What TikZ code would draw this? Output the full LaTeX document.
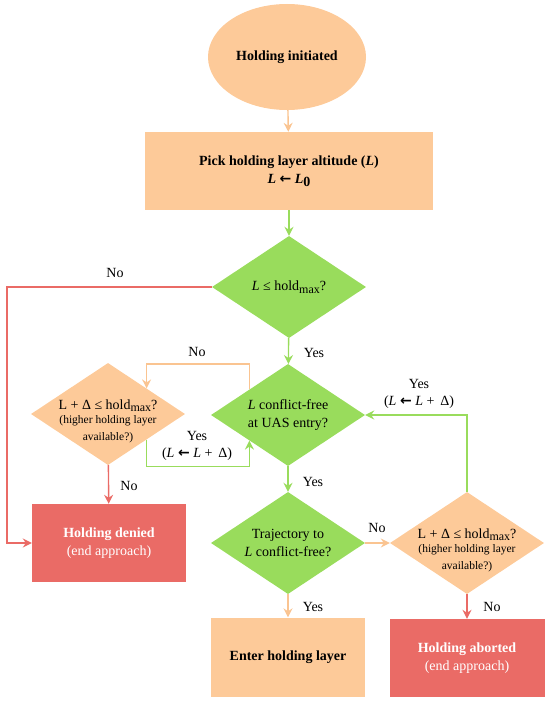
\documentclass[tikz,border=0pt]{standalone}
\usepackage{fontspec}
\setmainfont{Liberation Serif}
\newfontfamily\arrfont{DejaVu Sans}
\usetikzlibrary{shapes.geometric,arrows.meta,calc}
\definecolor{peach}{RGB}{253,202,153}
\definecolor{peachline}{RGB}{250,196,145}
\definecolor{lgreen}{RGB}{153,220,92}
\definecolor{lred}{RGB}{234,107,102}
\newcommand{\mysub}[1]{\raisebox{-0.4ex}{\fontsize{12}{12}\selectfont #1}}
\newcommand{\larr}{{\arrfont\bfseries ←}}
\begin{document}
\begin{tikzpicture}[x=1pt,y=-1pt,
  txt/.style={font=\fontsize{14}{18}\selectfont, align=center, inner sep=0},
  small/.style={font=\fontsize{11.5}{17}\selectfont, align=center, inner sep=0},
  dia/.style={diamond, draw=none, minimum width=154, minimum height=102, inner sep=0},
  box/.style={rectangle, draw=none, inner sep=0},
  conn/.style={line width=1.4pt, -{Stealth[length=9pt,width=9pt,inset=3pt]}},
  lab/.style={font=\fontsize{14}{17}\selectfont, align=center, inner sep=0}
]
\useasboundingbox (0,0) rectangle (550,703);

% nodes
\node[ellipse, fill=peach, minimum width=158, minimum height=106, inner sep=0] (start) at (287,57) {};
\node[txt, font=\fontsize{14}{18}\selectfont\bfseries] at (start) {Holding initiated};

\node[box, fill=peach, minimum width=288, minimum height=78] (pick) at (289,171) {};
\node[txt, font=\fontsize{14}{18}\selectfont\bfseries] at (pick) {Pick holding layer altitude (\textit{L})\\ \textit{L} \larr{} \textit{L}\raisebox{-0.4ex}{0}};

\node[dia, fill=lgreen] (d1) at (289,287) {};
\node[txt] at (d1) {\textit{L} ≤ hold\mysub{max}?};

\node[dia, fill=lgreen] (d2) at (288,415) {};
\node[txt] at (d2) {\textit{L} conflict-free\\at UAS entry?};

\node[dia, fill=lgreen] (d3) at (288,543) {};
\node[txt] at (d3) {Trajectory to\\\textit{L} conflict-free?};

\node[dia, fill=peach] (d4) at (108,414) {};
\node[txt, anchor=south] (d4t) at (108,412) {L + Δ ≤ hold\mysub{max}?};
\node[small, anchor=north] at (108,415) {(higher holding layer\\available?)};

\node[dia, fill=peach] (d5) at (467,543) {};
\node[txt, anchor=south] at (467,541) {L + Δ ≤ hold\mysub{max}?};
\node[small, anchor=north] at (467,544) {(higher holding layer\\available?)};

\node[box, fill=lred, minimum width=154, minimum height=78] (den) at (109,543) {};
\node[txt, text=white] at (den) {\textbf{Holding denied}\\(end approach)};

\node[box, fill=peach, minimum width=154, minimum height=79] (enter) at (288,657) {};
\node[txt, font=\fontsize{14}{18}\selectfont\bfseries] at (enter) {Enter holding layer};

\node[box, fill=lred, minimum width=155, minimum height=78] (abort) at (467,658) {};
\node[txt, text=white] at (abort) {\textbf{Holding aborted}\\(end approach)};

% helper coordinates
\coordinate (leftx) at (7,0);
\coordinate (p1) at ($(d2.west)!0.5!(d2.north)$);
\coordinate (p2) at ($(d4.north)!0.5!(d4.east)$);
\coordinate (q1) at ($(d4.east)!0.5!(d4.south)$);
\coordinate (q2) at ($(d2.west)!0.5!(d2.south)$);

% connectors
\draw[conn, peachline] (start) -- (pick);
\draw[conn, lgreen] (pick) -- (d1);
\draw[conn, lgreen] (d1) -- (d2);
\draw[conn, lgreen] (d2) -- (d3);
\draw[conn, peachline] (d3) -- (enter);
\draw[conn, peachline] (d3) -- (d5);
\draw[conn, lred] (d5) -- (abort);
\draw[conn, lred] (d4) -- (den);
\draw[conn, lred] (d1.west) -- (d1.west -| leftx) |- (den.west);
\draw[conn, lgreen] (d5.north) |- (d2.east);
\draw[conn, peachline] (p1) -- (p1 |- d2.north) -| (p2);
\draw[conn, lgreen] (q1) -- (q1 |- d2.south) -| (q2);

% labels
\node[lab] at (115,273) {No};
\node[lab] at (314,353) {Yes};
\node[lab] at (197,352) {No};
\node[lab] at (197,446) {Yes\\(\textit{L} \larr{} \textit{L} +\, Δ)};
\node[lab] at (313,482) {Yes};
\node[lab] at (129,486) {No};
\node[lab] at (377,528) {No};
\node[lab] at (313,607) {Yes};
\node[lab] at (492,607) {No};
\node[lab] at (419,394) {Yes\\(\textit{L} \larr{} \textit{L} +\, Δ)};
\end{tikzpicture}
\end{document}
